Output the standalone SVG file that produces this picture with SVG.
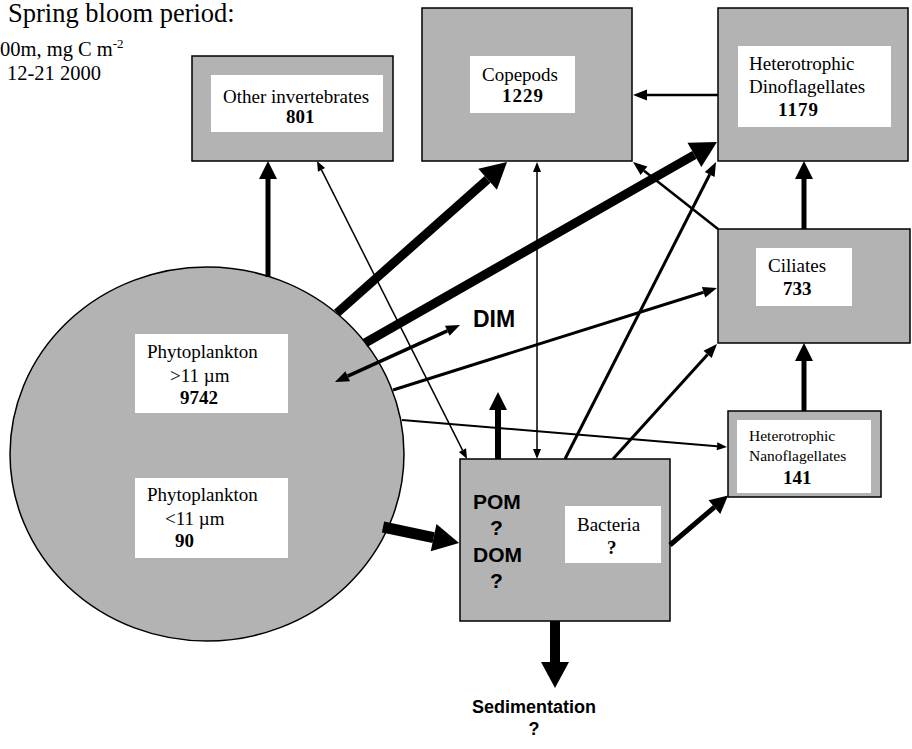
<svg xmlns="http://www.w3.org/2000/svg" width="912" height="749" viewBox="0 0 912 749">
<style>
.box{fill:#b3b3b3;stroke:#000;stroke-width:1.5}
.lab{fill:#fff;stroke:none}
.t{font-family:"Liberation Serif","Times New Roman",serif;font-size:19px;fill:#000}
.b{font-weight:bold}
.s{font-family:"Liberation Sans",Arial,sans-serif;font-weight:bold;fill:#000}
.c{fill:none;stroke:#000}
</style>
<defs>
<marker id="hs" markerUnits="userSpaceOnUse" markerWidth="10" markerHeight="8" refX="0" refY="4" orient="auto-start-reverse" overflow="visible"><path d="M0,0 L10,4 L0,8 z"/></marker>
<marker id="hm" markerUnits="userSpaceOnUse" markerWidth="14" markerHeight="11" refX="0" refY="5.5" orient="auto-start-reverse" overflow="visible"><path d="M0,0 L14,5.5 L0,11 z"/></marker>
<marker id="hl" markerUnits="userSpaceOnUse" markerWidth="18" markerHeight="18" refX="0" refY="9" orient="auto-start-reverse" overflow="visible"><path d="M0,0 L18,9 L0,18 z"/></marker>
<marker id="hx" markerUnits="userSpaceOnUse" markerWidth="26" markerHeight="28" refX="0" refY="14" orient="auto-start-reverse" overflow="visible"><path d="M0,0 L26,14 L0,28 z"/></marker>
</defs>
<rect width="912" height="749" fill="#fff"/>
<g id="title">
<text class="t" x="8" y="22" style="font-size:26.5px">Spring bloom period:</text>
<text class="t" x="0" y="56" style="font-size:20.5px">00m, mg C m<tspan dy="-8" style="font-size:13px">-2</tspan></text>
<text class="t" x="7" y="80" style="font-size:20.5px">12-21 2000</text>
</g>
<g id="phytoplankton">
<ellipse cx="207" cy="454" rx="197" ry="187" class="box"/>
<rect class="lab" x="135" y="334" width="153" height="79"/>
<text class="t" x="147" y="358">Phytoplankton</text>
<text class="t" x="170" y="382">&gt;11 µm</text>
<text class="t b" x="180" y="404">9742</text>
<rect class="lab" x="135" y="478" width="153" height="80"/>
<text class="t" x="147" y="501">Phytoplankton</text>
<text class="t" x="165" y="525">&lt;11 µm</text>
<text class="t b" x="175" y="547">90</text>
</g>
<g id="other-invertebrates">
<rect class="box" x="192" y="56" width="201" height="105"/>
<rect class="lab" x="211" y="75" width="172" height="57"/>
<text class="t" x="223" y="103">Other invertebrates</text>
<text class="t b" x="286" y="123">801</text>
</g>
<g id="copepods">
<rect class="box" x="422" y="8" width="210" height="153"/>
<rect class="lab" x="470" y="56" width="105" height="57"/>
<text class="t" x="482" y="81">Copepods</text>
<text class="t b" x="502" y="102" letter-spacing="1">1229</text>
</g>
<g id="heterotrophic-dinoflagellates">
<rect class="box" x="718" y="8" width="190" height="153"/>
<rect class="lab" x="738" y="46" width="153" height="81"/>
<text class="t" x="749" y="70">Heterotrophic</text>
<text class="t" x="749" y="93">Dinoflagellates</text>
<text class="t b" x="778" y="116" letter-spacing="1">1179</text>
</g>
<g id="ciliates">
<rect class="box" x="718" y="229" width="192" height="114"/>
<rect class="lab" x="756" y="248" width="96" height="58"/>
<text class="t" x="768" y="272">Ciliates</text>
<text class="t b" x="783" y="295">733</text>
</g>
<g id="heterotrophic-nanoflagellates">
<rect class="box" x="728" y="411" width="153" height="86"/>
<rect class="lab" x="737" y="420" width="134" height="73"/>
<text class="t" x="749" y="441" style="font-size:15.5px">Heterotrophic</text>
<text class="t" x="749" y="461" style="font-size:15.5px">Nanoflagellates</text>
<text class="t b" x="783" y="484">141</text>
</g>
<g id="pom-dom">
<rect class="box" x="460" y="459" width="210" height="162"/>
<text class="s" x="473" y="509" style="font-size:21px">POM</text>
<text class="s" x="490" y="535" style="font-size:21px">?</text>
<text class="s" x="473" y="562" style="font-size:21px">DOM</text>
<text class="s" x="490" y="588" style="font-size:21px">?</text>
</g>
<g id="bacteria">
<rect class="lab" x="565" y="506" width="96" height="57"/>
<text class="t" x="577" y="531">Bacteria</text>
<text class="t b" x="607" y="554">?</text>
</g>
<g id="dim">
<text class="s" x="473" y="327" style="font-size:23px">DIM</text>
</g>
<g id="sedimentation">
<text class="s" x="534" y="713" text-anchor="middle" style="font-size:18px">Sedimentation</text>
<text class="s" x="534" y="735" text-anchor="middle" style="font-size:18px">?</text>
</g>
<g id="connectors">
<line class="c" x1="268" y1="277" x2="268" y2="179" stroke-width="5" marker-end="url(#hl)"/>
<line class="c" x1="321.5" y1="169.9" x2="462.5" y2="450.1" stroke-width="1.5" marker-start="url(#hs)" marker-end="url(#hs)"/>
<line class="c" x1="337" y1="313" x2="487.6" y2="179.3" stroke-width="9" marker-end="url(#hx)"/>
<line class="c" x1="365" y1="343" x2="694.4" y2="154.9" stroke-width="9" marker-end="url(#hx)"/>
<line class="c" x1="347.7" y1="376.2" x2="447.3" y2="330.8" stroke-width="3.5" marker-start="url(#hm)" marker-end="url(#hm)"/>
<line class="c" x1="393" y1="390" x2="703.6" y2="292.2" stroke-width="3" marker-end="url(#hm)"/>
<line class="c" x1="402" y1="420" x2="717" y2="446.2" stroke-width="2" marker-end="url(#hs)"/>
<line class="c" x1="537" y1="172" x2="537" y2="449" stroke-width="1.5" marker-start="url(#hs)" marker-end="url(#hs)"/>
<line class="c" x1="565" y1="459" x2="709.7" y2="174.5" stroke-width="3" marker-end="url(#hm)"/>
<line class="c" x1="613" y1="459" x2="707.6" y2="354.4" stroke-width="3" marker-end="url(#hm)"/>
<line class="c" x1="718" y1="229" x2="644" y2="170.7" stroke-width="2.5" marker-end="url(#hm)"/>
<line class="c" x1="718" y1="95" x2="647" y2="95" stroke-width="2.5" marker-end="url(#hm)"/>
<line class="c" x1="804" y1="229" x2="804" y2="179" stroke-width="5" marker-end="url(#hl)"/>
<line class="c" x1="804" y1="411" x2="804" y2="361" stroke-width="5" marker-end="url(#hl)"/>
<line class="c" x1="670" y1="545" x2="714.4" y2="507.2" stroke-width="5" marker-end="url(#hl)"/>
<line class="c" x1="383" y1="527" x2="433.6" y2="537.6" stroke-width="11" marker-end="url(#hx)"/>
<line class="c" x1="498" y1="459" x2="498" y2="410" stroke-width="6" marker-end="url(#hl)"/>
<line class="c" x1="555" y1="621" x2="555" y2="662" stroke-width="10" marker-end="url(#hx)"/>
</g>
</svg>
